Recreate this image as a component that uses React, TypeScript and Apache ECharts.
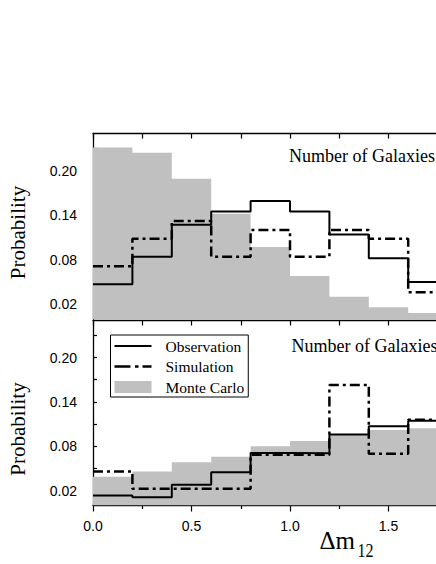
import React, { useEffect, useRef } from "react";
import * as echarts from "echarts";

// Bin left edges (last entry closes the final bin)
const binEdges = [0, 0.2, 0.4, 0.6, 0.8, 1.0, 1.2, 1.4, 1.6, 1.8];

// Upper panel
const topMonteCarlo = [0.231, 0.224, 0.189, 0.142, 0.097, 0.058, 0.030, 0.016, 0.008];
const topObservation = [0.047, 0.084, 0.127, 0.145, 0.159, 0.145, 0.114, 0.082, 0.050];
const topSimulation = [0.071, 0.108, 0.132, 0.084, 0.120, 0.084, 0.120, 0.108, 0.036];

// Lower panel
const botMonteCarlo = [0.039, 0.046, 0.0585, 0.066, 0.080, 0.087, 0.095, 0.102, 0.1045];
const botObservation = [0.0135, 0.011, 0.028, 0.045, 0.071, 0.0707, 0.096, 0.107, 0.1145];
const botSimulation = [0.046, 0.0226, 0.0226, 0.0226, 0.0685, 0.0685, 0.163, 0.070, 0.116];

const yLabelValues = [0.02, 0.08, 0.14, 0.2];
const yTickValues = [0.02, 0.05, 0.08, 0.11, 0.14, 0.17, 0.2, 0.23];

const seriesNames = ["Observation", "Simulation", "Monte Carlo"];
const panelText = "Number of Galaxies";
const yTitle = "Probability";

const GREY = "#c0c0c0";
const SERIF = "Liberation Serif";
const SANS = "Liberation Sans";

// legend icons (bounding box 37 x 12, tiny specks fix the box)
const BOX = "M0,0h0.01v0.01h-0.01Z M36.99,11.99h0.01v0.01h-0.01Z ";
const solidIcon = "path://" + BOX + "M0,5.1H37V6.9H0Z";
const dashDotIcon = "path://" + BOX + "M0,4.8H16V7.2H0Z M20.5,4.8H24V7.2H20.5Z M28,4.8H37V7.2H28Z";

function steps(values: number[]) {
  const pts = values.map((v, i) => [binEdges[i], v]);
  pts.push([binEdges[binEdges.length - 1], values[values.length - 1]]);
  return pts;
}

function panelSeries(idx: number, mc: number[], obs: number[], sim: number[]) {
  return [
    {
      name: seriesNames[2],
      type: "line",
      step: "end",
      xAxisIndex: idx * 2,
      yAxisIndex: idx,
      data: steps(mc),
      symbol: "none",
      color: GREY,
      itemStyle: { color: GREY },
      lineStyle: { width: 0, color: GREY },
      areaStyle: { color: GREY, opacity: 1 },
      z: 2,
    },
    {
      name: seriesNames[0],
      type: "line",
      step: "end",
      xAxisIndex: idx * 2,
      yAxisIndex: idx,
      data: steps(obs),
      symbol: "none",
      color: "#000",
      lineStyle: { width: 2, color: "#000", type: "solid" },
      z: 3,
    },
    {
      name: seriesNames[1],
      type: "line",
      step: "end",
      xAxisIndex: idx * 2,
      yAxisIndex: idx,
      data: steps(sim),
      symbol: "none",
      color: "#000",
      lineStyle: { width: 2.5, color: "#000", type: [10, 4, 3, 4] },
      z: 4,
    },
  ];
}

function yAxis(gridIndex: number) {
  return {
    type: "value",
    gridIndex,
    min: 0,
    max: 0.25,
    splitLine: { show: false },
    axisLine: { show: true, lineStyle: { color: "#000", width: 1.3 } },
    axisTick: {
      show: true,
      inside: true,
      length: 4,
      customValues: yTickValues,
      lineStyle: { color: "#000", width: 1.2 },
    },
    axisLabel: {
      customValues: yLabelValues,
      formatter: (v: number) => v.toFixed(2),
      margin: 16,
      fontSize: 14,
      fontFamily: SANS,
      color: "#000",
    },
  };
}

function topAxis(gridIndex: number) {
  return {
    type: "value",
    gridIndex,
    position: "top",
    min: 0,
    max: 2,
    interval: 0.25,
    splitLine: { show: false },
    axisLine: { show: true, onZero: false, lineStyle: { color: "#000", width: 1.3 } },
    axisTick: { show: true, inside: true, length: 5, lineStyle: { color: "#000", width: 1.2 } },
    axisLabel: { show: false },
  };
}

export default function App() {
  const ref = useRef<HTMLDivElement>(null);
  useEffect(() => {
    if (!ref.current) return;
    const chart = echarts.init(ref.current, null, { renderer: "svg" });
    const option: any = {
      animation: false,
      backgroundColor: "#fff",
      grid: [
        { left: 93, top: 133.5, width: 394, height: 185.5 },
        { left: 93, top: 320.5, width: 394, height: 185 },
      ],
      xAxis: [
        {
          type: "value",
          gridIndex: 0,
          min: 0,
          max: 2,
          interval: 0.5,
          show: false,
        },
        topAxis(0),
        {
          type: "value",
          gridIndex: 1,
          min: 0,
          max: 2,
          interval: 0.5,
          splitLine: { show: false },
          axisLine: { show: true, onZero: false, lineStyle: { color: "#000", width: 1.3 } },
          axisTick: { show: true, inside: false, length: 6, lineStyle: { color: "#000", width: 1.2 } },
          minorTick: { show: true, splitNumber: 2, length: 3.5, lineStyle: { color: "#000", width: 1.2 } },
          axisLabel: {
            formatter: (v: number) => v.toFixed(1),
            margin: 13,
            fontSize: 14,
            fontFamily: SANS,
            color: "#000",
            showMaxLabel: false,
          },
        },
        topAxis(1),
      ],
      yAxis: [yAxis(0), yAxis(1)],
      legend: {
        orient: "vertical",
        left: 110.5,
        top: 335,
        padding: [3, 4, 2, 4],
        borderColor: "#000",
        borderWidth: 1,
        itemWidth: 37,
        itemHeight: 12,
        itemGap: 4.5,
        selectedMode: false,
        textStyle: { fontFamily: SERIF, fontSize: 15.5, color: "#000", padding: [0, 0, 0, 9] },
        data: [
          { name: seriesNames[0], icon: solidIcon, itemStyle: { color: "#000", borderWidth: 0 }, lineStyle: { width: 0 } },
          { name: seriesNames[1], icon: dashDotIcon, itemStyle: { color: "#000", borderWidth: 0 }, lineStyle: { width: 0 } },
          { name: seriesNames[2], icon: "rect", itemStyle: { color: GREY, borderWidth: 0 } },
        ],
      },
      series: [
        ...panelSeries(0, topMonteCarlo, topObservation, topSimulation),
        ...panelSeries(1, botMonteCarlo, botObservation, botSimulation),
      ],
      graphic: [
        {
          type: "text",
          x: 289,
          y: 156,
          z: 10,
          style: { text: panelText, font: `18px "${SERIF}"`, fill: "#000", align: "left", verticalAlign: "middle" },
        },
        {
          type: "text",
          x: 291.5,
          y: 345.5,
          z: 10,
          style: { text: panelText, font: `18px "${SERIF}"`, fill: "#000", align: "left", verticalAlign: "middle" },
        },
        {
          type: "text",
          x: 17.5,
          y: 232.5,
          rotation: Math.PI / 2,
          style: { text: yTitle, font: `21px "${SERIF}"`, fill: "#000", align: "center", verticalAlign: "middle" },
        },
        {
          type: "text",
          x: 17.5,
          y: 429,
          rotation: Math.PI / 2,
          style: { text: yTitle, font: `21px "${SERIF}"`, fill: "#000", align: "center", verticalAlign: "middle" },
        },
        {
          type: "text",
          x: 319.5,
          y: 540,
          style: { text: "Δm", font: `25px "${SERIF}"`, fill: "#000", align: "left", verticalAlign: "middle" },
        },
        {
          type: "text",
          x: 357.5,
          y: 550,
          scaleY: 1.2,
          style: { text: "12", font: `16px "${SERIF}"`, fill: "#000", align: "left", verticalAlign: "middle" },
        },
      ],
    };
    chart.setOption(option);
    return () => chart.dispose();
  }, []);
  return (
    <div style={{ position: "absolute", left: 0, top: 0, width: 436, height: 564, overflow: "hidden" }}>
      <div ref={ref} style={{ width: 520, height: 564 }} />
    </div>
  );
}
